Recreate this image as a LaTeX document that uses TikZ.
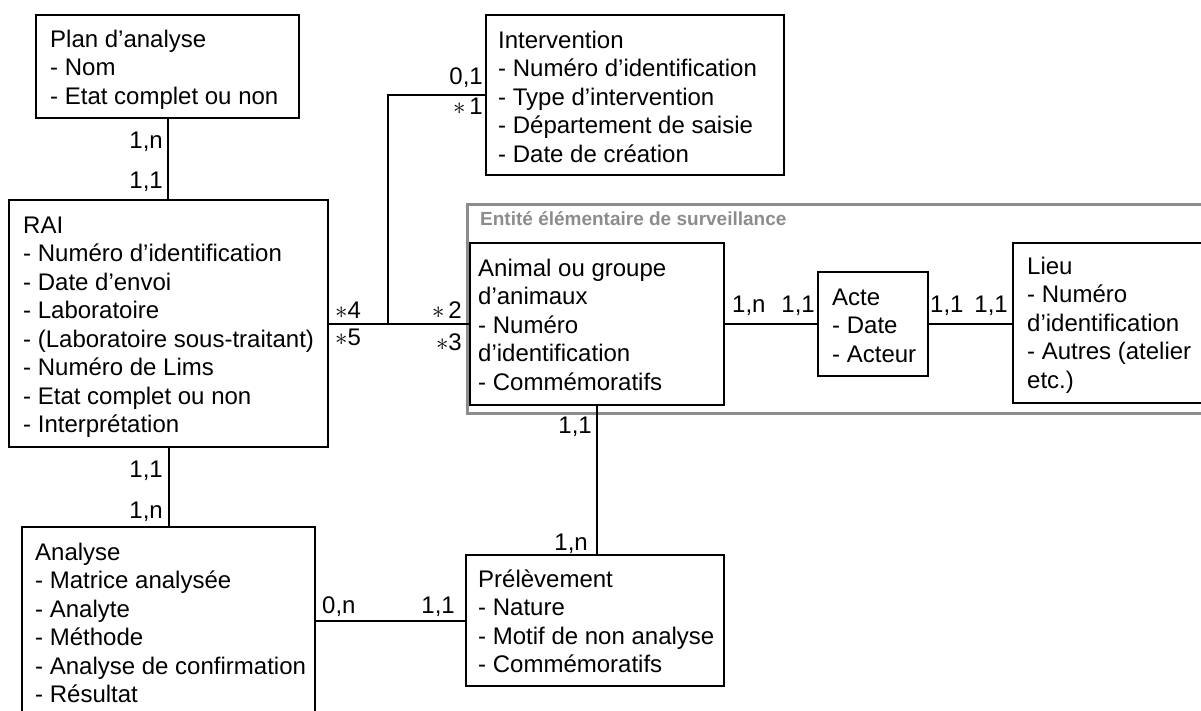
\documentclass[tikz,border=0pt]{standalone}
\usepackage{fontspec}
\setmainfont{Liberation Sans}
\newcommand\topstrut{\rule{0pt}{23pt}}
\newcommand\mult{$\ast$}
\begin{document}
\begin{tikzpicture}[x=1pt,y=-1pt,
  entity/.style={draw=black, line width=2pt, inner sep=0pt, fill=white},
  group/.style={draw=black!45, line width=3pt, inner sep=0pt},
  grouptitle/.style={anchor=base west, inner sep=0pt, text=black!45,
    font=\fontsize{19}{23}\selectfont\bfseries},
  attrs/.style={anchor=north west, inner sep=0pt, align=left,
    font=\fontsize{24}{28.5}\selectfont},
  card/.style={inner sep=0pt, font=\fontsize{24}{28.5}\selectfont},
  link/.style={draw=black, line width=2pt}]
\useasboundingbox (0,0) rectangle (1201,711);

% grouping frame
\node[group, minimum width=760pt, minimum height=209pt, anchor=north west] (ees) at (466,203) {};
\node[grouptitle] (eestitle) at (480,226) {Entité élémentaire de surveillance};

% entity boxes
\node[entity, minimum width=263pt, minimum height=103pt] (plan)    at (167.5,66.5) {};
\node[entity, minimum width=298pt, minimum height=160pt] (interv)  at (635,95) {};
\node[entity, minimum width=319pt, minimum height=247pt] (rai)     at (168.5,323.5) {};
\node[entity, minimum width=254pt, minimum height=162pt] (animal)  at (597,324) {};
\node[entity, minimum width=110pt, minimum height=104pt] (acte)    at (873,324) {};
\node[entity, minimum width=190pt, minimum height=160pt] (lieu)    at (1108,323) {};
\node[entity, minimum width=293pt, minimum height=193pt] (analyse) at (168.5,623.5) {};
\node[entity, minimum width=258pt, minimum height=131pt] (prel)    at (595,620.5) {};

% attribute lists
\node[attrs] (plantxt) at (50,24) {\topstrut Plan d’analyse\\- Nom\\- Etat complet ou non};
\node[attrs] (intervtxt) at (498,25) {\topstrut Intervention\\- Numéro d’identification\\- Type d’intervention\\- Département de saisie\\- Date de création};
\node[attrs] (raitxt) at (23,210) {\topstrut RAI\\- Numéro d’identification\\- Date d’envoi\\- Laboratoire\\- (Laboratoire sous-traitant)\\- Numéro de Lims\\- Etat complet ou non\\- Interprétation};
\node[attrs] (animaltxt) at (478,253) {\topstrut Animal ou groupe\\d’animaux\\- Numéro\\d’identification\\- Commémoratifs};
\node[attrs] (actetxt) at (832,282) {\topstrut Acte\\- Date\\- Acteur};
\node[attrs] (lieutxt) at (1027,251) {\topstrut Lieu\\- Numéro\\d’identification\\- Autres (atelier\\etc.)};
\node[attrs] (analysetxt) at (35,537) {\topstrut Analyse\\- Matrice analysée\\- Analyte\\- Méthode\\- Analyse de confirmation\\- Résultat};
\node[attrs] (preltxt) at (478,564) {\topstrut Prélèvement\\- Nature\\- Motif de non analyse\\- Commémoratifs};

% connectors
\coordinate (j) at (388,323.5);
\draw[link] (plan.south) -- (plan.south |- rai.north);
\draw[link] (rai.east) -- (rai.east -| animal.west);
\draw[link] (interv.west) -| (j);
\draw[link] (animal.east |- acte.west) -- (acte.west);
\draw[link] (acte.east) -- (acte.east -| lieu.west);
\draw[link] (rai.south) -- (rai.south |- analyse.north);
\draw[link] (animal.south) -- (animal.south |- prel.north);
\draw[link] (prel.west) -- (prel.west -| analyse.east);

% cardinalities
\node[card, anchor=base east] (c1) at (163,149) {1,n};
\node[card, anchor=base east] (c2) at (163,189) {1,1};
\node[card, anchor=base east] (c3) at (483,85) {0,1};
\node[card, anchor=base east] (c4) at (483,115) {\mult\,1};
\node[card, anchor=base west] (c5) at (335,318) {\mult 4};
\node[card, anchor=base west] (c6) at (335,345) {\mult 5};
\node[card, anchor=base east] (c7) at (462,318) {\mult\,2};
\node[card, anchor=base east] (c8) at (462,350) {\mult 3};
\node[card, anchor=base west] (c9) at (732,312) {1,n};
\node[card, anchor=base east] (c10) at (815,312) {1,1};
\node[card, anchor=base west] (c11) at (930,312) {1,1};
\node[card, anchor=base east] (c12) at (1008,312) {1,1};
\node[card, anchor=base east] (c13) at (592,433) {1,1};
\node[card, anchor=base east] (c14) at (588,550) {1,n};
\node[card, anchor=base east] (c15) at (163,477) {1,1};
\node[card, anchor=base east] (c16) at (163,518) {1,n};
\node[card, anchor=base west] (c17) at (322,613) {0,n};
\node[card, anchor=base east] (c18) at (455,613) {1,1};
\end{tikzpicture}
\end{document}
